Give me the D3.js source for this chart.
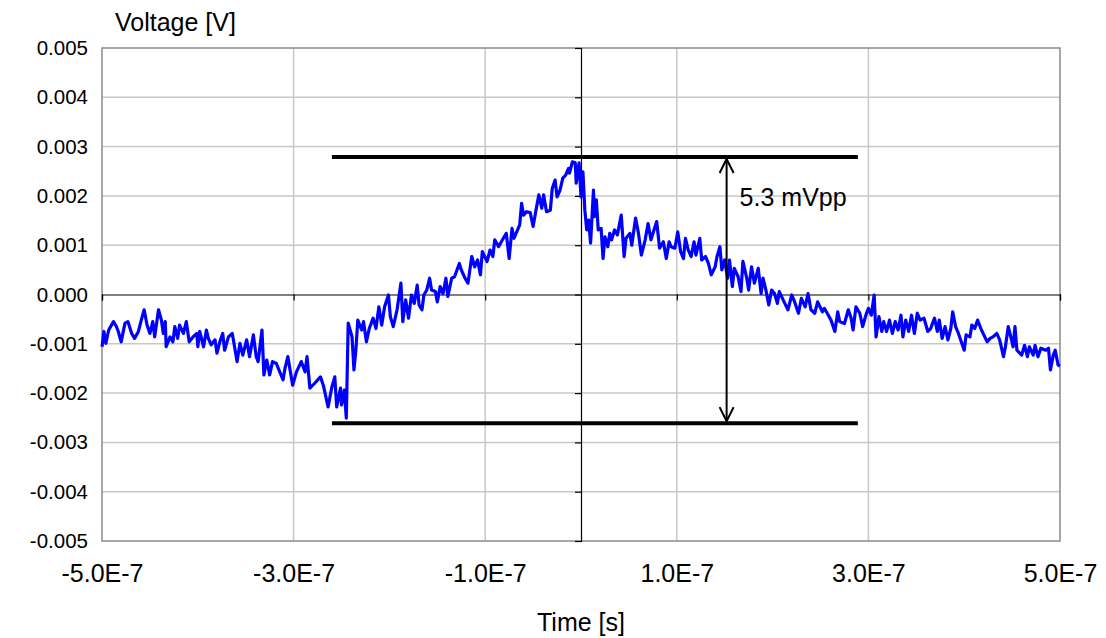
<!DOCTYPE html>
<html>
<head>
<meta charset="utf-8">
<script src="https://cdn.jsdelivr.net/npm/d3@7"></script>
<style>
  html, body { margin: 0; padding: 0; background: #fff; }
  svg text { font-family: "Liberation Sans", Arial, sans-serif; fill: #000; }
</style>
</head>
<body>
<svg id="chart" width="1106" height="638"></svg>
<script>
// ---- data (time in ns, voltage in mV) ----
const timeNs = [
-500,-498,-496,-493,-488,-485,-483,-480,-476,-473,-469,-466,-462,-459,-456,-453,-450,-447,-445,-441,
-438,-436,-434,-433,-429,-426,-424,-421,-419,-415,-412,-409,-405,-401,-400,-398,-394,-391,-389,-386,
-382,-380,-377,-374,-372,-368,-364,-359,-356,-353,-349,-346,-342,-339,-337,-333,-331,-328,-325,-322,
-318,-311,-309,-306,-301,-297,-292,-288,-286,-283,-278,-272,-269,-264,-260,-257,-255,-251,-250,-247,
-245,-243,-239,-237,-235,-233,-229,-227,-224,-221,-217,-214,-211,-208,-205,-201,-199,-196,-192,-188,
-186,-183,-180,-177,-174,-171,-169,-166,-164,-161,-158,-156,-152,-150,-147,-144,-141,-139,-135,-132,
-127,-125,-121,-118,-114,-111,-108,-105,-103,-98,-95,-92,-90,-86,-82,-78,-75,-72,-70,-64,
-62,-60,-57,-53,-50,-47,-44,-41,-39,-36,-32,-30,-27,-25,-22,-19,-16,-13,-12,-9,
-6,-5,-2,0,2,4,6,8,10,13,14,16,18,21,23,25,28,30,32,35,
38,42,45,47,51,53,57,60,63,67,70,73,79,82,86,89,92,94,98,101,
104,107,109,112,115,118,120,124,126,130,133,136,140,142,145,147,150,153,155,158,
160,164,167,169,173,175,178,181,185,188,190,193,196,199,202,205,207,211,216,220,
223,227,230,234,237,240,244,247,252,254,257,261,265,268,270,275,279,282,284,287,
291,294,298,300,303,306,308,311,314,316,319,322,325,328,331,334,336,339,342,345,
348,351,354,358,362,365,369,372,374,377,380,383,386,388,391,394,400,402,406,408,
411,414,418,424,427,430,434,437,441,443,446,449,451,453,455,460,463,466,468,472,
474,477,480,485,488,490,493,495,498,500
];
const voltageMV = [
-1.06,-0.75,-0.99,-0.72,-0.55,-0.65,-0.75,-0.96,-0.58,-0.55,-0.79,-0.89,-0.75,-0.52,-0.31,-0.62,-0.79,-0.55,-0.86,-0.31,
-0.52,-0.79,-0.55,-1.06,-0.86,-0.96,-0.65,-0.89,-0.62,-0.79,-0.55,-0.96,-0.86,-0.79,-1.06,-0.75,-1.06,-0.72,-0.89,-1.02,
-0.92,-1.19,-0.96,-0.79,-1.13,-0.86,-0.79,-1.36,-0.99,-1.23,-0.92,-1.26,-0.82,-1.26,-1.36,-0.72,-1.63,-1.33,-1.63,-1.36,
-1.40,-1.73,-1.50,-1.26,-1.84,-1.57,-1.36,-1.57,-1.26,-1.90,-1.80,-1.67,-1.84,-2.28,-1.87,-1.67,-2.28,-1.90,-2.24,-1.94,
-2.51,-0.58,-0.86,-1.53,-1.13,-0.52,-0.72,-0.55,-0.96,-0.69,-0.48,-0.69,-0.25,-0.62,-0.25,-0.01,-0.45,-0.65,-0.31,0.23,
-0.55,-0.11,-0.48,-0.01,-0.18,0.19,-0.21,-0.31,-0.01,0.09,0.33,0.09,0.06,-0.15,0.16,0.02,0.33,-0.04,0.33,0.36,
0.63,0.50,0.33,0.23,0.77,0.56,0.70,0.40,0.87,0.67,0.90,0.77,1.11,0.97,1.11,1.24,0.73,1.34,1.14,1.41,
1.85,1.61,1.68,1.66,1.38,1.71,2.02,1.75,2.02,1.68,1.71,2.15,2.32,1.98,2.11,2.36,2.42,2.56,2.46,2.69,
2.67,2.26,2.67,1.98,2.49,1.71,1.31,1.51,1.04,2.12,1.58,1.92,1.31,1.34,0.73,1.17,0.97,1.24,1.11,1.31,
1.21,1.61,0.77,1.14,1.24,1.00,1.55,1.24,0.80,1.11,1.44,1.11,1.48,0.94,1.07,0.73,1.07,0.97,0.94,1.27,
0.87,0.73,1.14,0.90,0.77,1.07,0.80,1.14,0.70,0.77,0.63,0.40,0.56,0.77,0.97,0.50,0.70,0.33,0.70,0.16,
0.53,0.36,0.06,0.67,0.33,0.09,0.56,0.23,0.53,0.02,0.33,0.09,-0.21,0.09,0.02,-0.18,0.06,-0.11,-0.31,-0.01,
-0.15,-0.38,-0.08,-0.25,0.02,-0.31,-0.38,-0.15,-0.35,-0.28,-0.38,-0.52,-0.75,-0.35,-0.55,-0.59,-0.31,-0.48,-0.72,-0.25,
-0.38,-0.65,-0.38,-0.28,-0.42,-0.01,-0.86,-0.45,-0.75,-0.55,-0.75,-0.52,-0.79,-0.55,-0.72,-0.42,-0.86,-0.52,-0.75,-0.42,
-0.79,-0.38,-0.52,-0.48,-0.75,-0.69,-0.48,-0.75,-0.52,-0.89,-0.65,-0.92,-0.69,-0.35,-0.65,-0.79,-1.13,-0.82,-0.86,-0.62,
-0.69,-0.52,-0.72,-0.96,-0.89,-0.86,-0.79,-0.92,-1.26,-1.06,-0.65,-0.89,-1.06,-0.65,-1.13,-1.23,-1.03,-1.26,-1.06,-1.23,
-1.03,-1.26,-1.09,-1.13,-1.09,-1.53,-1.23,-1.13,-1.43,-1.45
];

const xTickValues = [-500, -300, -100, 100, 300, 500];
const xTickLabels = ["-5.0E-7", "-3.0E-7", "-1.0E-7", "1.0E-7", "3.0E-7", "5.0E-7"];
const xGridValues = [-300, -100, 100, 300];
const yTickValues = [5, 4, 3, 2, 1, 0, -1, -2, -3, -4, -5];
const yTickLabels = ["0.005", "0.004", "0.003", "0.002", "0.001", "0.000", "-0.001", "-0.002", "-0.003", "-0.004", "-0.005"];

// annotation values
const peakHighMV = 2.79;
const peakLowMV = -2.61;
const markerStartNs = -260;
const markerEndNs = 289;
const arrowNs = 152;
const annotationText = "5.3 mVpp";
const xTitle = "Time [s]";
const yTitle = "Voltage [V]";

// ---- drawing ----
const FS = 25;     // x labels, titles, annotation
const FSY = 20.5;  // y tick labels
const svg = d3.select("#chart");
const plot = { left: 102, top: 48, right: 1060, bottom: 541 };

const x = d3.scaleLinear().domain([-500, 500]).range([plot.left, plot.right]);
const y = d3.scaleLinear().domain([-5, 5]).range([plot.bottom, plot.top]);

// gridlines
const grid = svg.append("g");
grid.selectAll("line.hg").data(yTickValues.filter(v => v !== 0 && Math.abs(v) !== 5))
  .join("line")
  .attr("x1", plot.left).attr("x2", plot.right)
  .attr("y1", d => y(d)).attr("y2", d => y(d))
  .attr("stroke", "#c8c8c8").attr("stroke-width", 1.5);
grid.selectAll("line.vg").data(xGridValues)
  .join("line")
  .attr("y1", plot.top).attr("y2", plot.bottom)
  .attr("x1", d => x(d)).attr("x2", d => x(d))
  .attr("stroke", "#c8c8c8").attr("stroke-width", 1.5);

// plot border
svg.append("rect")
  .attr("x", plot.left).attr("y", plot.top)
  .attr("width", plot.right - plot.left).attr("height", plot.bottom - plot.top)
  .attr("fill", "none").attr("stroke", "#8a8a8a").attr("stroke-width", 1.5);

// zero axes with ticks (D3 axes, labels removed)
const xAxisZero = d3.axisBottom(x).tickValues(xTickValues).tickSize(6).tickFormat("");
svg.append("g").attr("transform", `translate(0,${y(0)})`).call(xAxisZero)
  .call(g => g.select(".domain").attr("stroke", "#000").attr("stroke-width", 1.2))
  .call(g => g.selectAll(".tick line").attr("stroke", "#000").attr("stroke-width", 1.2));

const yAxisZero = d3.axisLeft(y).tickValues(yTickValues).tickSize(6).tickFormat("");
svg.append("g").attr("transform", `translate(${x(0)},0)`).call(yAxisZero)
  .call(g => g.select(".domain").attr("stroke", "#000").attr("stroke-width", 1.2))
  .call(g => g.selectAll(".tick line").attr("stroke", "#000").attr("stroke-width", 1.2));

// outer tick labels via D3 axes
const yAxisLabels = d3.axisLeft(y).tickValues(yTickValues).tickSize(0).tickPadding(14)
  .tickFormat((d, i) => yTickLabels[i]);
svg.append("g").attr("transform", `translate(${plot.left},0)`).call(yAxisLabels)
  .call(g => g.select(".domain").remove())
  .call(g => g.selectAll("text").attr("font-size", FSY).attr("font-family", "Liberation Sans, Arial, sans-serif").attr("fill", "#000"));

const xAxisLabels = d3.axisBottom(x).tickValues(xTickValues).tickSize(0).tickPadding(23)
  .tickFormat((d, i) => xTickLabels[i]);
svg.append("g").attr("transform", `translate(0,${plot.bottom})`).call(xAxisLabels)
  .call(g => g.select(".domain").remove())
  .call(g => g.selectAll("text").attr("font-size", FS).attr("font-family", "Liberation Sans, Arial, sans-serif").attr("fill", "#000"));

// axis titles
svg.append("text").attr("x", 115).attr("y", 31).attr("font-size", FS).text(yTitle);
svg.append("text").attr("x", x(0)).attr("y", 631).attr("text-anchor", "middle").attr("font-size", FS).text(xTitle);

// data line
const series = timeNs.map((t, i) => ({ t, v: voltageMV[i] }));
const line = d3.line().x(d => x(d.t)).y(d => y(d.v));
svg.append("path").datum(series)
  .attr("d", line)
  .attr("fill", "none").attr("stroke", "#0000ff").attr("stroke-width", 3.2)
  .attr("stroke-linejoin", "round");

// annotation: peak lines
const ann = svg.append("g");
[peakHighMV, peakLowMV].forEach(v => {
  ann.append("line")
    .attr("x1", x(markerStartNs)).attr("x2", x(markerEndNs))
    .attr("y1", y(v)).attr("y2", y(v))
    .attr("stroke", "#000").attr("stroke-width", 4);
});
// double-headed arrow
const ax = x(arrowNs), ayTop = y(peakHighMV) + 2, ayBot = y(peakLowMV) - 2;
ann.append("line").attr("x1", ax).attr("x2", ax).attr("y1", ayTop).attr("y2", ayBot)
  .attr("stroke", "#000").attr("stroke-width", 2);
ann.append("path")
  .attr("d", `M${ax - 7},${ayTop + 14} L${ax},${ayTop} L${ax + 7},${ayTop + 14}`)
  .attr("fill", "none").attr("stroke", "#000").attr("stroke-width", 2);
ann.append("path")
  .attr("d", `M${ax - 7},${ayBot - 14} L${ax},${ayBot} L${ax + 7},${ayBot - 14}`)
  .attr("fill", "none").attr("stroke", "#000").attr("stroke-width", 2);
ann.append("text").attr("x", ax + 13).attr("y", 206).attr("font-size", FS).text(annotationText);
</script>
</body>
</html>
